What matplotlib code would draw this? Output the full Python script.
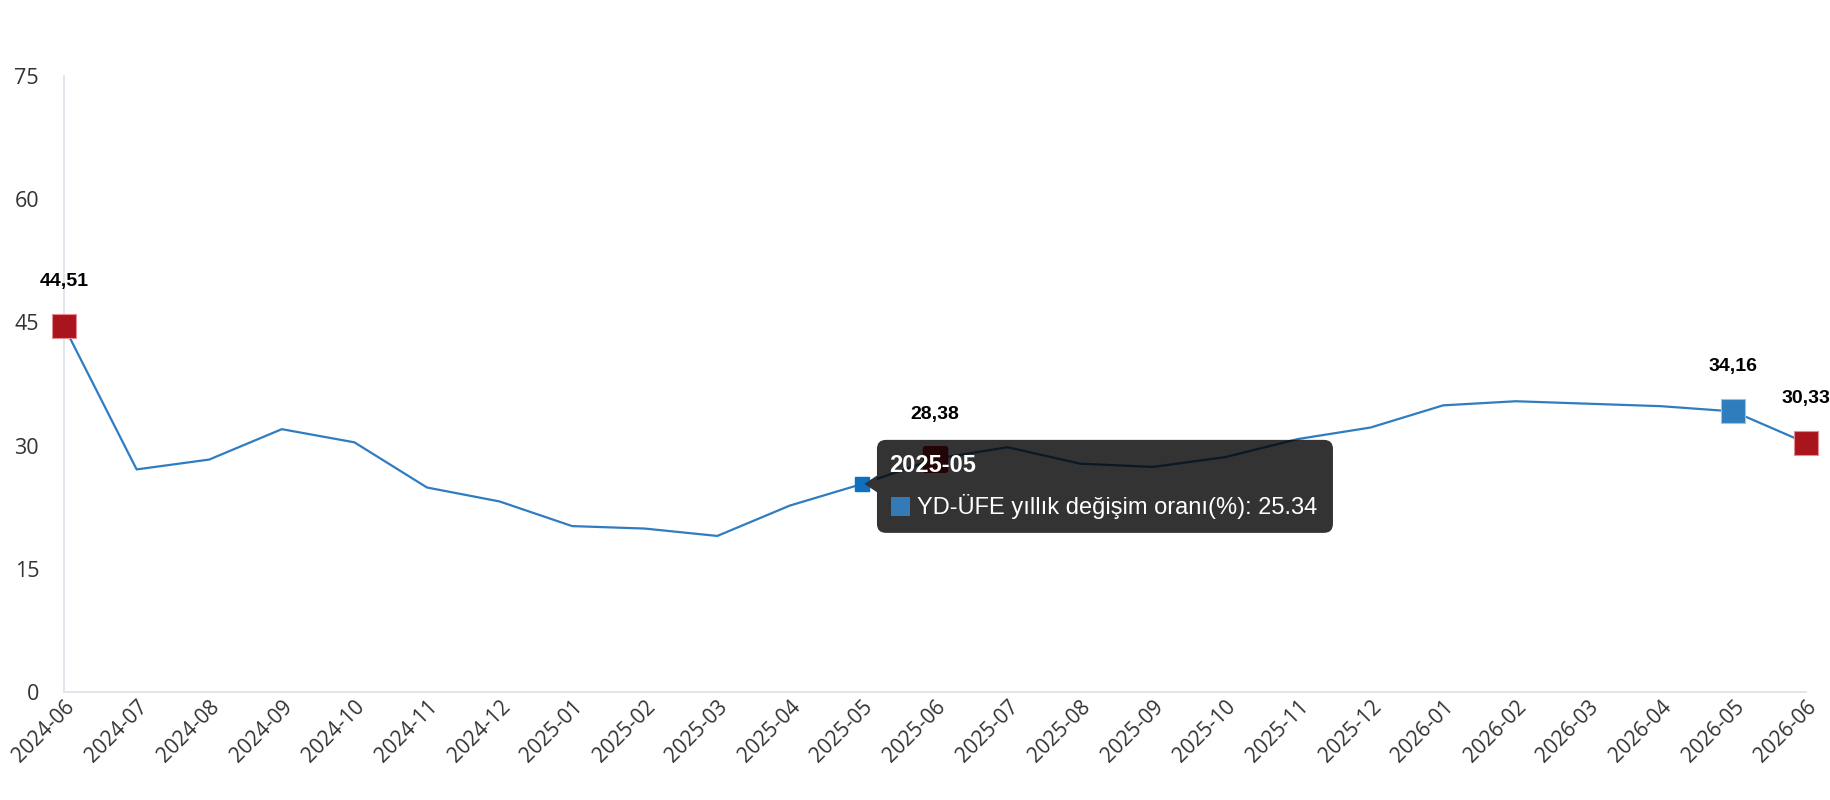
import matplotlib.pyplot as plt
from matplotlib.patches import FancyBboxPatch, Polygon, Rectangle
from matplotlib.transforms import IdentityTransform

# monthly labels and annual change values (%)
months = ["2024-06", "2024-07", "2024-08", "2024-09", "2024-10", "2024-11", "2024-12",
          "2025-01", "2025-02", "2025-03", "2025-04", "2025-05", "2025-06", "2025-07",
          "2025-08", "2025-09", "2025-10", "2025-11", "2025-12", "2026-01", "2026-02",
          "2026-03", "2026-04", "2026-05", "2026-06"]
values = [44.51, 27.1, 28.3, 32.0, 30.4, 24.9, 23.2,
          20.2, 19.9, 19.0, 22.7, 25.34, 28.38, 29.8,
          27.8, 27.4, 28.6, 30.8, 32.2, 34.9, 35.4,
          35.1, 34.8, 34.16, 30.33]
red_points = [0, 12, 24]
blue_points = [23]
hover_point = 11
yticks = [0, 15, 30, 45, 60, 75]
series_name = "YD-ÜFE yıllık değişim oranı(%)"

line_color = "#2f7dc0"
red = "#a8151c"
blue = "#2f7dbd"

fig = plt.figure(figsize=(18.3, 8), dpi=100)
ax = fig.add_axes([0.035, 0.135, 0.9519, 0.77])

x = list(range(len(months)))
ax.plot(x, values, color=line_color, lw=1.6, zorder=2, clip_on=False)

for i in red_points:
    ax.plot(x[i], values[i], marker="s", ms=17, color=red, mec="#e58a90", mew=0.8,
            zorder=3, clip_on=False)
for i in blue_points:
    ax.plot(x[i], values[i], marker="s", ms=17, color=blue, mec="#9cc3e6", mew=0.8,
            zorder=3, clip_on=False)
ax.plot(x[hover_point], values[hover_point], marker="s", ms=9.5, color="#0f70c2",
        zorder=3, clip_on=False)

for i in red_points + blue_points:
    ax.annotate(f"{values[i]:.2f}".replace(".", ","), (x[i], values[i]),
                xytext=(0, 32), textcoords="offset points", ha="center", va="center",
                fontsize=14, fontweight="bold", family="Liberation Sans", color="black",
                zorder=6)

ax.set_xlim(0, len(months) - 1)
ax.set_ylim(0, 75)
ax.set_yticks(yticks)
ax.set_xticks(x)
ax.set_xticklabels(months, rotation=45, ha="right", va="top", rotation_mode="anchor")
for lab in ax.get_xticklabels() + ax.get_yticklabels():
    lab.set_family("Open Sans")
    lab.set_color("#333333")
ax.tick_params(axis="y", length=0, pad=18, labelsize=15.5)
ax.tick_params(axis="x", length=0, pad=3, labelsize=15)
for s in ["top", "right"]:
    ax.spines[s].set_visible(False)
for s in ["left", "bottom"]:
    ax.spines[s].set_color("#dfe3eb")
    ax.spines[s].set_linewidth(1.3)

# tooltip for the hovered point, placed in pixels relative to that point
fig.canvas.draw()
px, py = ax.transData.transform((x[hover_point], values[hover_point]))
ident = IdentityTransform()
bx0, bw = px + 14.5, 456
by0, bh = py - 49, 93
box = FancyBboxPatch((bx0, by0), bw, bh, boxstyle="round,pad=0,rounding_size=9",
                     transform=ident, facecolor="#333333", edgecolor="none", zorder=4)
ax.add_artist(box)
caret = Polygon([(px + 2, py), (bx0 + 1, py + 9), (bx0 + 1, py - 9)], closed=True,
                transform=ident, facecolor="#333333", edgecolor="none", zorder=4)
ax.add_artist(caret)

# the series shows through the tooltip darkened
dark_line, = ax.plot(x, values, color="#091926", lw=1.6, zorder=4.5, clip_on=True)
dark_line.set_clip_path(box)
dark_mark, = ax.plot(x[hover_point + 1], values[hover_point + 1], marker="s", ms=17,
                     color="#220406", zorder=4.5)
dark_mark.set_clip_path(box)

ax.text(px + 27, py + 18.8, months[hover_point], transform=ident, color="white",
        fontsize=17, fontweight="bold", family="Liberation Sans", va="center",
        ha="left", zorder=6)
ax.add_artist(Rectangle((px + 29, py - 32.5), 19, 19, transform=ident,
                        facecolor="#337ab7", edgecolor="none", zorder=6))
ax.text(px + 55, py - 22.9, f"{series_name}: {values[hover_point]:.2f}", transform=ident,
        color="white", fontsize=17, family="Liberation Sans", va="center", ha="left",
        zorder=6)

fig.savefig("out.png", dpi=100)
